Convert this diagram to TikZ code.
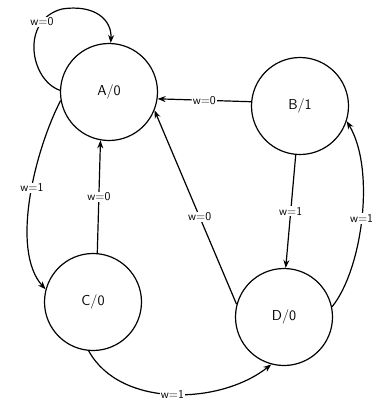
\documentclass[tikz,border=0pt]{standalone}
\usepackage{tikz}
\usetikzlibrary{arrows.meta}

\begin{document}
\begin{tikzpicture}[x=1pt,y=-1pt,>={Stealth[length=8pt,width=6pt]},line width=1.2pt,
	state/.style={draw,circle,minimum size=97pt,inner sep=0pt,font=\sffamily\Large},
	lbl/.style={fill=white,inner sep=1pt,font=\sffamily\large}]
	\useasboundingbox (0,0) rectangle (372,402);
	
	\node[state] (A) at (109,92) {A/0};
	\node[state] (B) at (300,106) {B/1};
	\node[state] (C) at (93,302) {C/0};
	\node[state] (D) at (284,317) {D/0};
	
	\draw [->] (A.178) .. controls (30,80) and (20,20) .. (62,9) .. controls (95,4) and (112,20) .. (A.88);
	\node[lbl] (l1) at (42,22) {w=0};
	\draw [->] (B.175) -- node[lbl] (l2) {w=0} (A.-8);
	\draw [->] (A.190) .. controls (35,150) and (10,250) .. node[lbl,pos=0.45] (l3) {w=1} (C.165);
	\draw [->] (C.85) -- node[lbl] (l4) {w=0} (A.260);
	\draw [->] (C.265) .. controls (120,408) and (220,405) .. node[lbl,pos=0.5] (l5) {w=1} (D.255);
	\draw [->] (D.165) -- node[lbl,pos=0.45] (l6) {w=0} (A.-22);
	\draw [->] (B.-95) -- node[lbl] (l7) {w=1} (D.88);
	\draw [->] (D.12) .. controls (362,270) and (376,170) .. node[lbl,pos=0.5] (l8) {w=1} (B.-18);
\end{tikzpicture}
\end{document}
